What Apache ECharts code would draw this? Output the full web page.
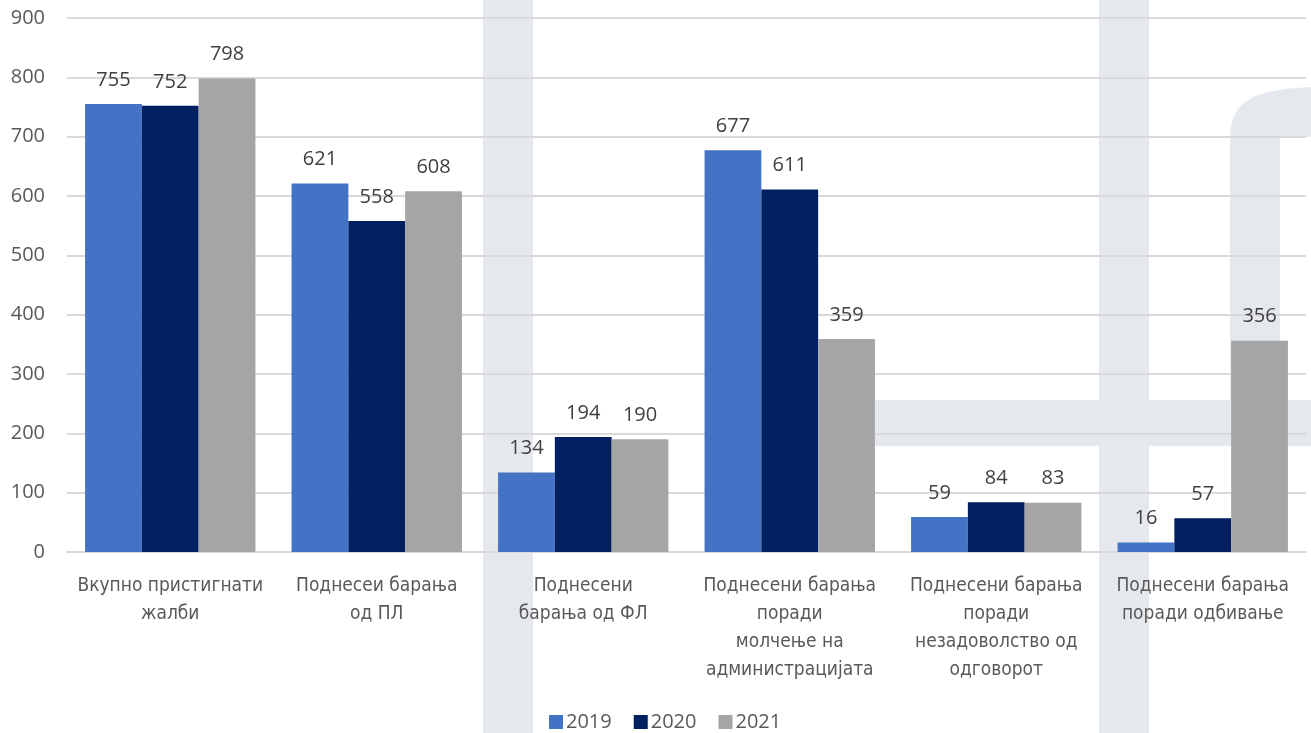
<!DOCTYPE html>
<html>
<head>
<meta charset="utf-8">
<script src="https://cdn.jsdelivr.net/npm/echarts@6/dist/echarts.min.js"></script>
<style>
html,body{margin:0;padding:0;background:#fff;}
#c{width:1311px;height:733px;}
</style>
</head>
<body>
<div id="c"></div>
<script>
var categories = [
  "Вкупно пристигнати\nжалби",
  "Поднесеи барања\nод ПЛ",
  "Поднесени\nбарања од ФЛ",
  "Поднесени барања\nпоради\nмолчење на\nадминистрацијата",
  "Поднесени барања\nпоради\nнезадоволство од\nодговорот",
  "Поднесени барања\nпоради одбивање"
];
var seriesNames = ["2019", "2020", "2021"];
var values2019 = [755, 621, 134, 677, 59, 16];
var values2020 = [752, 558, 194, 611, 84, 57];
var values2021 = [798, 608, 190, 359, 83, 356];
var yTicks = { min: 0, max: 900, interval: 100 };

var colors = ["#4472c4", "#002060", "#a5a5a5"];
var wm = "#e5e8ed";

// decorative watermark hook outline (background logo)
function hookPoints() {
  var pts = [[1230, 400], [1230, 140]];
  var p0 = [1230, 140], c1 = [1230, 104], c2 = [1248, 92], p3 = [1296, 88];
  for (var i = 1; i <= 16; i++) {
    var t = i / 16, u = 1 - t;
    pts.push([
      u*u*u*p0[0] + 3*u*u*t*c1[0] + 3*u*t*t*c2[0] + t*t*t*p3[0],
      u*u*u*p0[1] + 3*u*u*t*c1[1] + 3*u*t*t*c2[1] + t*t*t*p3[1]
    ]);
  }
  pts.push([1311, 87], [1311, 137], [1280, 137], [1280, 400]);
  return pts;
}

var chart = echarts.init(document.getElementById('c'), null, { renderer: 'canvas' });

function mk(name, data, color) {
  return {
    name: name, type: 'bar', data: data,
    barGap: '0%', barCategoryGap: '17.5%',
    itemStyle: { color: color },
    label: {
      show: true, position: 'top', distance: 14,
      color: '#404040', fontSize: 20, fontFamily: 'Open Sans'
    }
  };
}

chart.setOption({
  animation: false,
  backgroundColor: '#ffffff',
  graphic: [
    { type: 'rect', z: -10, shape: { x: 483, y: 0, width: 50, height: 733 }, style: { fill: wm } },
    { type: 'rect', z: -10, shape: { x: 1099, y: 0, width: 50, height: 733 }, style: { fill: wm } },
    { type: 'rect', z: -10, shape: { x: 850, y: 400, width: 461, height: 46 }, style: { fill: wm } },
    { type: 'polygon', z: -10, shape: { points: hookPoints() }, style: { fill: wm } }
  ],
  grid: { left: 67, right: 5, top: 18, bottom: 181, containLabel: false },
  legend: {
    data: seriesNames, top: 707, left: 544,
    itemWidth: 14, itemHeight: 14, itemGap: 22, icon: 'rect',
    textStyle: { color: '#595959', fontSize: 20, fontFamily: 'Open Sans', padding: [0, 0, 0, -2] }
  },
  xAxis: {
    type: 'category', data: categories,
    axisLine: { show: true, lineStyle: { color: '#d9d9d9', width: 2 } },
    axisTick: { show: false },
    axisLabel: {
      interval: 0, margin: 20, color: '#595959', fontSize: 19, lineHeight: 28,
      fontFamily: '"Liberation Sans Narrow", "DejaVu Sans Condensed", "Roboto", sans-serif'
    }
  },
  yAxis: {
    type: 'value', min: yTicks.min, max: yTicks.max, interval: yTicks.interval,
    axisLine: { show: false }, axisTick: { show: false },
    splitLine: { lineStyle: { color: '#d9d9d9', width: 2 } },
    axisLabel: { color: '#595959', fontSize: 20, margin: 22, fontFamily: 'Open Sans' }
  },
  series: [
    mk(seriesNames[0], values2019, colors[0]),
    mk(seriesNames[1], values2020, colors[1]),
    mk(seriesNames[2], values2021, colors[2])
  ]
});
</script>
</body>
</html>
